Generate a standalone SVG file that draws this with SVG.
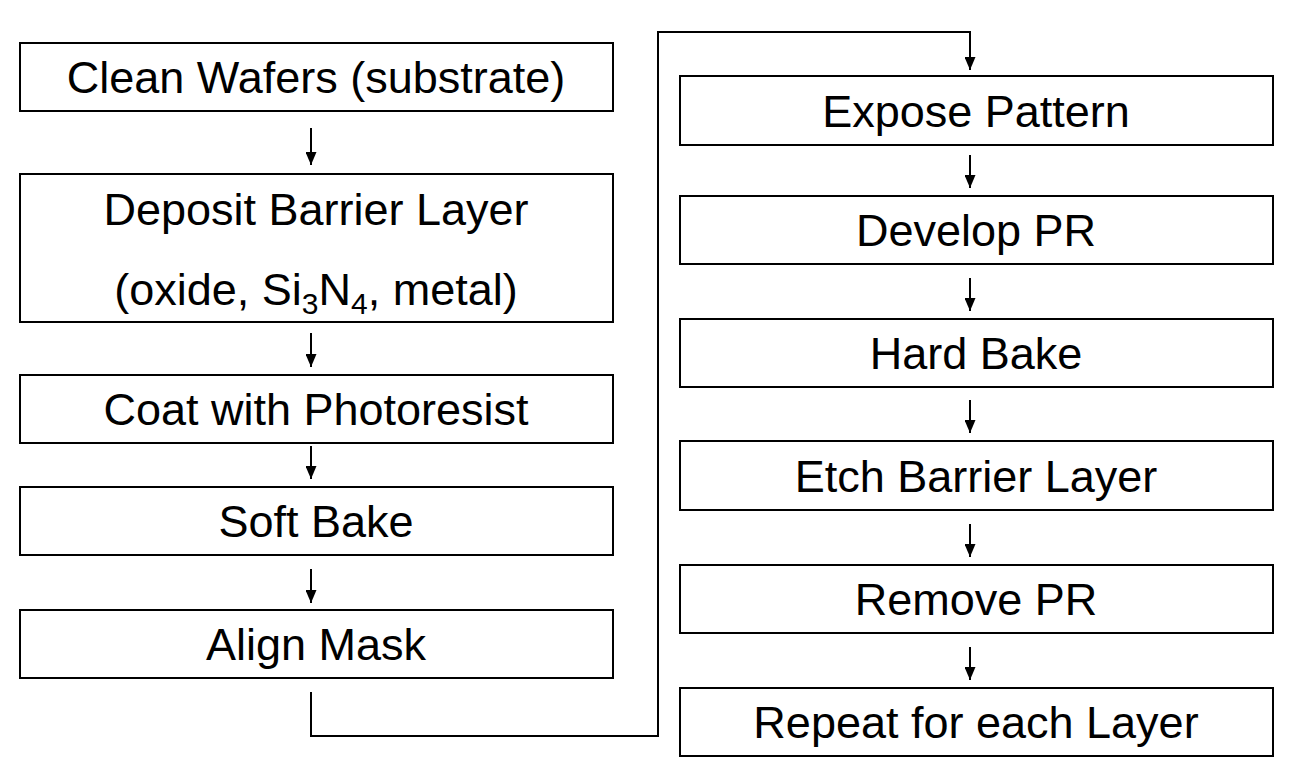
<svg xmlns="http://www.w3.org/2000/svg" width="1303" height="778" viewBox="0 0 1303 778">
<style>
.box{fill:#fff;stroke:#000;stroke-width:2}
.t{font-family:"Liberation Sans",Arial,sans-serif;font-size:45px;fill:#000;text-anchor:middle}
.c{fill:none;stroke:#000;stroke-width:2}
</style>
<defs>
<marker id="a" markerWidth="13" markerHeight="11" refX="13" refY="5.5" orient="auto" markerUnits="userSpaceOnUse" viewBox="0 0 13 11">
<path d="M0,0 L13,5.5 L0,11 Z" fill="#000"/>
</marker>
</defs>
<rect width="1303" height="778" fill="#fff"/>
<g id="n1"><rect class="box" x="20" y="43" width="593" height="68"/><text class="t" x="316" y="93">Clean Wafers (substrate)</text></g>
<g id="n2"><rect class="box" x="20" y="174" width="593" height="148"/><text class="t" x="316" y="225">Deposit Barrier Layer</text><text class="t" x="316" y="305">(oxide, Si<tspan font-size="30" dy="9">3</tspan><tspan dy="-9">N</tspan><tspan font-size="30" dy="9">4</tspan><tspan dy="-9">, metal)</tspan></text></g>
<g id="n3"><rect class="box" x="20" y="375" width="593" height="68"/><text class="t" x="316" y="425">Coat with Photoresist</text></g>
<g id="n4"><rect class="box" x="20" y="487" width="593" height="68"/><text class="t" x="316" y="537">Soft Bake</text></g>
<g id="n5"><rect class="box" x="20" y="610" width="593" height="68"/><text class="t" x="316" y="660">Align Mask</text></g>
<g id="n6"><rect class="box" x="680" y="76" width="593" height="69"/><text class="t" x="976" y="127">Expose Pattern</text></g>
<g id="n7"><rect class="box" x="680" y="196" width="593" height="68"/><text class="t" x="976" y="246">Develop PR</text></g>
<g id="n8"><rect class="box" x="680" y="319" width="593" height="68"/><text class="t" x="976" y="369">Hard Bake</text></g>
<g id="n9"><rect class="box" x="680" y="441" width="593" height="69"/><text class="t" x="976" y="492">Etch Barrier Layer</text></g>
<g id="n10"><rect class="box" x="680" y="565" width="593" height="68"/><text class="t" x="976" y="615">Remove PR</text></g>
<g id="n11"><rect class="box" x="680" y="688" width="593" height="68"/><text class="t" x="976" y="738">Repeat for each Layer</text></g>
<g id="connectors">
<path class="c" marker-end="url(#a)" d="M311,128 V165"/>
<path class="c" marker-end="url(#a)" d="M311,333 V367"/>
<path class="c" marker-end="url(#a)" d="M311,446 V479"/>
<path class="c" marker-end="url(#a)" d="M311,569 V603"/>
<path class="c" marker-end="url(#a)" d="M311,692 V736 H658 V32 H970 V70"/>
<path class="c" marker-end="url(#a)" d="M970,155 V188"/>
<path class="c" marker-end="url(#a)" d="M970,278 V311"/>
<path class="c" marker-end="url(#a)" d="M970,400 V433"/>
<path class="c" marker-end="url(#a)" d="M970,524 V557"/>
<path class="c" marker-end="url(#a)" d="M970,647 V680"/>
</g>
</svg>
